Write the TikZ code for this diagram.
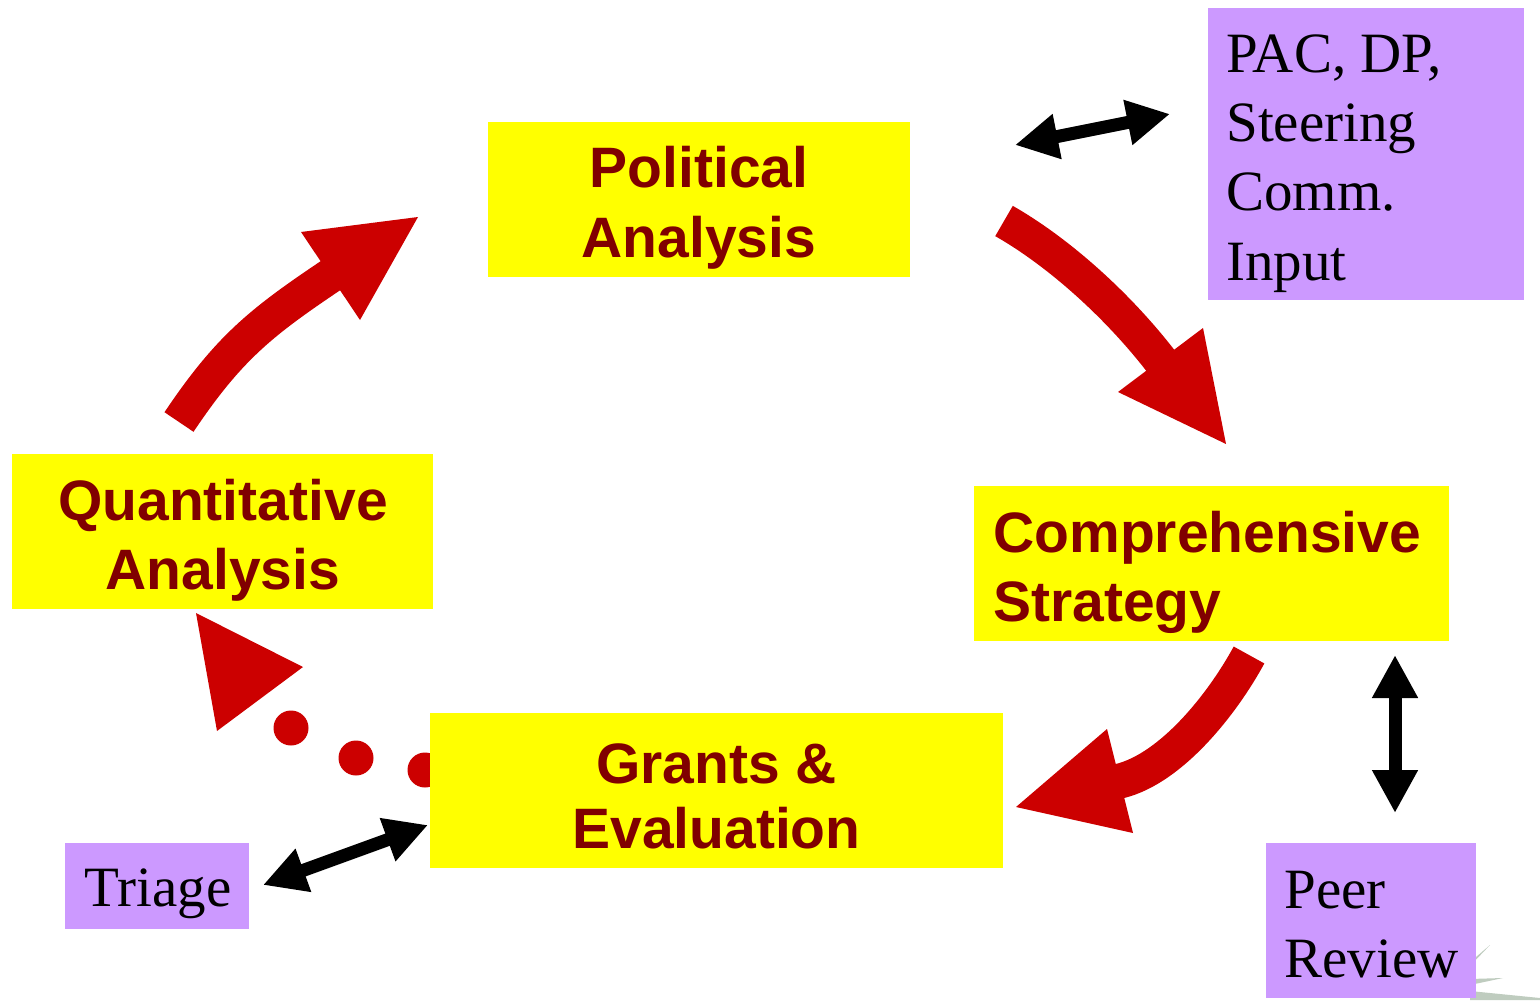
\documentclass[tikz,border=0pt]{standalone}
\usepackage{fontspec}
\setmainfont{Liberation Serif}
\setsansfont{Liberation Sans}
\usetikzlibrary{arrows.meta}
\definecolor{boxyellow}{HTML}{FFFF00}
\definecolor{txtred}{HTML}{800000}
\definecolor{boxpurple}{HTML}{CC99FF}
\definecolor{arrred}{HTML}{CC0000}
\definecolor{leafgrey}{HTML}{BFCCBF}
\begin{document}
\begin{tikzpicture}[x=0.5pt,y=-0.5pt,
  ybox/.style={fill=boxyellow, inner sep=0pt, minimum height=77.5pt},
  pbox/.style={fill=boxpurple, inner sep=0pt},
  ytxt/.style={text=txtred, font=\fontsize{28.5}{34.5}\selectfont\sffamily\bfseries, inner sep=0pt, anchor=base},
  ytxtl/.style={ytxt, anchor=base west},
  ptxt/.style={text=black, font=\fontsize{28.5}{34.5}\selectfont, inner sep=0pt, anchor=base west},
  redshaft/.style={draw=arrred, line width=17.5pt},
  redhead/.style={fill=arrred},
  reddot/.style={fill=arrred},
  dblarrow/.style={line width=6.5pt, {Triangle[width=21.5pt,length=21.5pt]}-{Triangle[width=21.5pt,length=21.5pt]}}
]
\useasboundingbox (0,0) rectangle (1540,1000);

% faint decoration, bottom right
\fill[leafgrey] (1470,966) -- (1490,945) -- (1476,957) -- cycle;
\fill[leafgrey] (1470,985) -- (1503,978) -- (1470,979) -- cycle;
\fill[leafgrey] (1470,1000) -- (1470,991) -- (1540,998) -- (1540,1000) -- cycle;

% dotted arrow (dots behind Grants box)
\coordinate (d1) at (291,728);
\coordinate (d2) at (356,758);
\coordinate (d3) at (425,770);
\fill[reddot] (d1) circle[radius=17.5];
\fill[reddot] (d2) circle[radius=17.5];
\fill[reddot] (d3) circle[radius=17.5];

% boxes
\node[ybox, minimum width=211pt] (pol) at (699,199.5) {};
\node[ytxt] (pol1) at (699,188) {Political};
\node[ytxt] (pol2) at (699,257) {Analysis};

\node[ybox, minimum width=210.5pt] (quant) at (222.5,531.5) {};
\node[ytxt] (quant1) at (223,520) {Quantitative};
\node[ytxt] (quant2) at (223,589) {Analysis};

\node[ybox, minimum width=237.5pt] (comp) at (1211.5,563.5) {};
\node[ytxtl] (comp1) at (993,552) {Comprehensive};
\node[ytxtl] (comp2) at (993,621) {Strategy};

\node[ybox, minimum width=286.5pt] (grants) at (716.5,790.5) {};
\node[ytxt] (grants1) at (716.5,783) {Grants \&};
\node[ytxt] (grants2) at (716.5,848) {Evaluation};

\node[pbox, minimum width=158pt, minimum height=146pt] (pac) at (1366,154) {};
\node[ptxt] (pac1) at (1226,73) {PAC, DP,};
\node[ptxt] (pac2) at (1226,142) {Steering};
\node[ptxt] (pac3) at (1226,211) {Comm.};
\node[ptxt] (pac4) at (1226,280) {Input};

\node[pbox, minimum width=92pt, minimum height=43pt] (triage) at (157,886) {};
\node[ptxt, anchor=base] (triage1) at (158,906) {Triage};

\node[pbox, minimum width=105pt, minimum height=77.5pt] (peer) at (1371,920.5) {};
\node[ptxt] (peer1) at (1284,908) {Peer};
\node[ptxt] (peer2) at (1284,977) {Review};

% red curved arrows
\coordinate (a1s) at (179,422);
\coordinate (a1b) at (330,276);
\coordinate (a1e) at (338,271);
\coordinate (a1l) at (301,232);
\coordinate (a1t) at (418,217);
\coordinate (a1r) at (360,320);
\draw[redshaft] (a1s) .. controls (228,349) and (260,323) .. (a1b) -- (a1e);
\fill[redhead] (a1l) -- (a1t) -- (a1r) -- cycle;

\coordinate (a2s) at (1004,221);
\coordinate (a2b) at (1160,360);
\coordinate (a2e) at (1166,368);
\coordinate (a2l) at (1203,328);
\coordinate (a2t) at (1226,444);
\coordinate (a2r) at (1118,392);
\draw[redshaft] (a2s) .. controls (1055,250) and (1114,301) .. (a2b) -- (a2e);
\fill[redhead] (a2l) -- (a2t) -- (a2r) -- cycle;

\coordinate (a3s) at (1249,655);
\coordinate (a3b) at (1120,781);
\coordinate (a3e) at (1111,783);
\coordinate (a3l) at (1107,729);
\coordinate (a3t) at (1016,807);
\coordinate (a3r) at (1133,833);
\draw[redshaft] (a3s) .. controls (1223,703) and (1172,768) .. (a3b) -- (a3e);
\fill[redhead] (a3l) -- (a3t) -- (a3r) -- cycle;

\coordinate (a4l) at (303,667);
\coordinate (a4t) at (196,613);
\coordinate (a4r) at (217,731);
\fill[redhead] (a4l) -- (a4t) -- (a4r) -- cycle;

% black double arrows
\coordinate (b1a) at (1015,145);
\coordinate (b1b) at (1170,114);
\draw[dblarrow] (b1a) -- (b1b);
\coordinate (b2a) at (1395,655);
\coordinate (b2b) at (1395,813);
\draw[dblarrow] (b2a) -- (b2b);
\coordinate (b3a) at (263,885);
\coordinate (b3b) at (428,825);
\draw[dblarrow] (b3a) -- (b3b);
\end{tikzpicture}
\end{document}
